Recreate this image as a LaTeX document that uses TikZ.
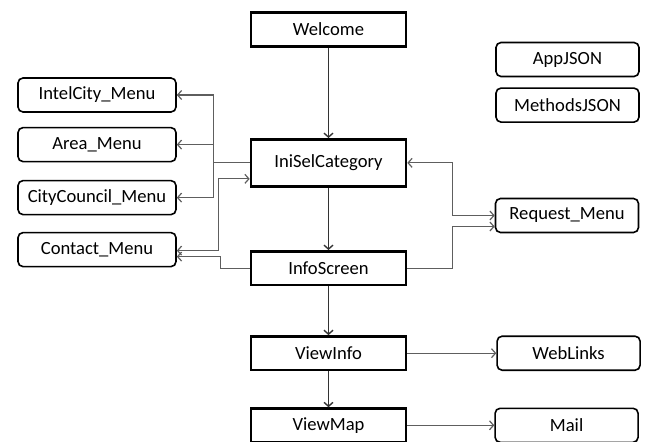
\documentclass[tikz,border=0pt]{standalone}
\usepackage{fontspec}
\setmainfont{Carlito}
\usetikzlibrary{positioning,arrows.meta}
\definecolor{linkgray}{HTML}{5E5E5E}
\definecolor{flowgray}{HTML}{333333}
\tikzset{
	screen/.style={draw, line width=2.6pt, minimum width=155pt, minimum height=33.5pt, inner sep=0pt, font=\fontsize{18.6}{22}\selectfont},
	menu/.style={draw, line width=1.6pt, rounded corners=5pt, minimum width=158pt, minimum height=34pt, inner sep=0pt, font=\fontsize{18.6}{22}\selectfont},
	datafile/.style={menu, minimum width=143pt},
	flow/.style={->, flowgray, line width=1.4pt, >={Straight Barb[length=4pt,width=9pt]}},
	link/.style={linkgray, line width=1.2pt, >={Straight Barb[length=4pt,width=9pt]}},
}

\begin{document}
\begin{tikzpicture}[x=1pt, y=-1pt]
	\useasboundingbox (0,0) rectangle (649,442);

	\node[screen] (welcome) at (328.5,29.5) {Welcome};
	\node[screen, minimum height=47pt, below=90.5pt of welcome] (inisel) {IniSelCategory};
	\node[screen, below=62.4pt of inisel] (infoscreen) {InfoScreen};
	\node[screen, below=49pt of infoscreen] (viewinfo) {ViewInfo};
	\node[screen, below=36pt of viewinfo] (viewmap) {ViewMap};

	\node[menu] (intelcity) at (97,95) {IntelCity\_Menu};
	\node[menu, below=14pt of intelcity] (area) {Area\_Menu};
	\node[menu, below=17.4pt of area] (citycouncil) {CityCouncil\_Menu};
	\node[menu, below=16.4pt of citycouncil] (contact) {Contact\_Menu};

	\node[datafile] (appjson) at (567.5,59.5) {AppJSON};
	\node[datafile, below=10pt of appjson] (methodsjson) {MethodsJSON};
	\node[datafile] (request) at (567,215.5) {Request\_Menu};
	\node[datafile, right=89pt of viewinfo] (weblinks) {WebLinks};
	\node[datafile, right=87pt of viewmap] (mail) {Mail};

	\coordinate (ltrunk) at ([xshift=-36pt]inisel.west);

	\draw[flow] (welcome) -- (inisel);
	\draw[flow] (inisel) -- (infoscreen);
	\draw[flow] (infoscreen) -- (viewinfo);
	\draw[flow] (viewinfo) -- (viewmap);

	\draw[link] (inisel.west) -- (ltrunk);
	\draw[link] (ltrunk |- intelcity.east) -- (ltrunk |- citycouncil.east);
	\draw[link, ->] (ltrunk |- intelcity.east) -- (intelcity.east);
	\draw[link, ->] (ltrunk |- area.east) -- (area.east);
	\draw[link, ->] (ltrunk |- citycouncil.east) -- (citycouncil.east);
	\draw[link, <->] ([yshift=-1pt]contact.east) -| ([xshift=-31pt, yshift=-16pt]inisel.west) -- ([yshift=-16pt]inisel.west);
	\draw[link, ->] (infoscreen.west) -- ++(-29,0) |- ([yshift=-7pt]contact.east);

	\draw[link, <->] (inisel.east) -- ++(45,0) |- (request.west);
	\draw[link, ->] (infoscreen.east) -- ++(45,0) |- ([yshift=-11pt]request.west);

	\draw[link, ->] (viewinfo) -- (weblinks);
	\draw[link, ->] (viewmap) -- (mail);
\end{tikzpicture}
\end{document}
